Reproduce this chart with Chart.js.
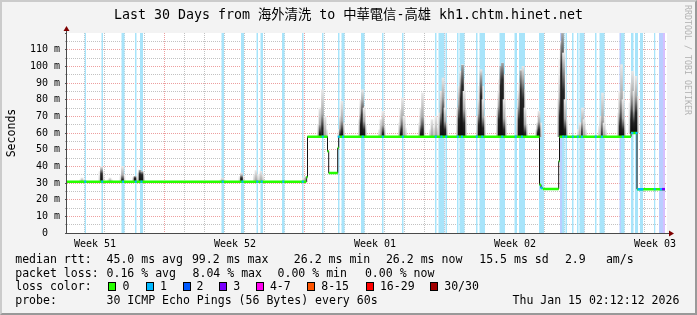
<!DOCTYPE html>
<html lang="zh-Hant">
<head>
<meta charset="utf-8">
<title>Last 30 Days from 海外清洗 to 中華電信-高雄 kh1.chtm.hinet.net</title>
<script src="https://cdn.jsdelivr.net/npm/chart.js@4.4.1/dist/chart.umd.min.js"></script>
<style>
  html, body { margin: 0; padding: 0; background: #f3f3f3; }
  #quadro {
    position: relative; width: 697px; height: 315px; overflow: hidden;
    background: #f3f3f3; color: #000;
    font-family: "DejaVu Sans Mono", "Noto Sans CJK TC", monospace;
  }
  #moldura {
    position: absolute; left: 0; top: 0; width: 697px; height: 315px; box-sizing: border-box;
    border-top: 2px solid #cbcbcb; border-left: 2px solid #cbcbcb;
    border-right: 2px solid #999; border-bottom: 2px solid #999; pointer-events: none;
  }
  #graficoSmoke { position: absolute; left: 0; top: 0; }
  #titulo {
    position: absolute; left: 0; top: 6.9px; width: 697px; text-align: center;
    font-size: 13.3px; line-height: 16px; white-space: pre;
  }
  #rotuloY {
    position: absolute; left: -19.2px; top: 125.5px; width: 60px; height: 14px;
    text-align: center; font-size: 11.55px; line-height: 14px; transform: rotate(-90deg);
  }
  #marcaDagua {
    position: absolute; left: 627.7px; top: 55px; width: 120px; height: 10px;
    text-align: center; font-size: 8.3px; line-height: 10px; color: #b2b2b2;
    transform: rotate(90deg); white-space: pre;
  }
  .leg { position: absolute; font-size: 11.55px; line-height: 14px; white-space: pre; }
  .cx { position: absolute; width: 8px; height: 9px; box-sizing: border-box; border: 1px solid #000; top: 282.3px; }
</style>
</head>
<body>
<div id="quadro">
  <canvas id="graficoSmoke" width="697" height="315"></canvas>

  <div id="titulo">Last 30 Days from 海外清洗 to 中華電信-高雄 kh1.chtm.hinet.net</div>
  <div id="rotuloY">Seconds</div>
  <div id="marcaDagua">RRDTOOL / TOBI OETIKER</div>

  <!-- linha 1 -->
  <span class="leg" style="left:15.2px;top:251.7px">median rtt:</span>
  <span class="leg" style="left:106.5px;top:251.7px">45.0 ms avg</span>
  <span class="leg" style="left:191.9px;top:251.7px">99.2 ms max</span>
  <span class="leg" style="left:293.8px;top:251.7px">26.2 ms min</span>
  <span class="leg" style="left:385.9px;top:251.7px">26.2 ms now</span>
  <span class="leg" style="left:479.2px;top:251.7px">15.5 ms sd</span>
  <span class="leg" style="left:564.9px;top:251.7px">2.9</span>
  <span class="leg" style="left:605.9px;top:251.7px">am/s</span>

  <!-- linha 2 -->
  <span class="leg" style="left:15.2px;top:265.5px">packet loss:</span>
  <span class="leg" style="left:106.5px;top:265.5px">0.16 % avg</span>
  <span class="leg" style="left:192.5px;top:265.5px">8.04 % max</span>
  <span class="leg" style="left:277.5px;top:265.5px">0.00 % min</span>
  <span class="leg" style="left:364.9px;top:265.5px">0.00 % now</span>

  <!-- linha 3 -->
  <span class="leg" style="left:15.2px;top:279.3px">loss color:</span>
  <div class="cx" style="left:108.3px;background:#26ff00"></div>
  <span class="leg" style="left:122.5px;top:279.3px">0</span>
  <div class="cx" style="left:145.7px;background:#00b8ff"></div>
  <span class="leg" style="left:159.9px;top:279.3px">1</span>
  <div class="cx" style="left:182.7px;background:#0059ff"></div>
  <span class="leg" style="left:196.5px;top:279.3px">2</span>
  <div class="cx" style="left:219.3px;background:#7a00ff"></div>
  <span class="leg" style="left:233.2px;top:279.3px">3</span>
  <div class="cx" style="left:256.3px;background:#ff00f0"></div>
  <span class="leg" style="left:269.9px;top:279.3px">4-7</span>
  <div class="cx" style="left:307.3px;background:#ff5500"></div>
  <span class="leg" style="left:321.2px;top:279.3px">8-15</span>
  <div class="cx" style="left:365.7px;background:#ff0000"></div>
  <span class="leg" style="left:379.9px;top:279.3px">16-29</span>
  <div class="cx" style="left:430px;background:#a10000"></div>
  <span class="leg" style="left:444.2px;top:279.3px">30/30</span>

  <!-- linha 4 -->
  <span class="leg" style="left:15.2px;top:293.2px">probe:</span>
  <span class="leg" style="left:106.5px;top:293.2px">30 ICMP Echo Pings (56 Bytes) every 60s</span>
  <span class="leg" style="left:512.5px;top:293.2px">Thu Jan 15 02:12:12 2026</span>

  <div id="moldura"></div>
</div>

<script>
console.log("✅ smokeping-30dias carregado");

// ==========================
// 📊 DADOS (x = dias desde o início da janela, y = ms)
// ==========================
const semanasRotulos = ["Week 51", "Week 52", "Week 01", "Week 02", "Week 03"];
const semanasPosicao = [1.4, 8.4, 15.4, 22.4, 29.4];
const semanasInicio = [4.85, 11.85, 18.85, 25.85];
const primeiraLinhaDia = 0.85;

// mediana em degraus: valor vale a partir do tempo indicado
const medianaTempo = [0, 11.965, 12.025, 13.025, 13.085, 13.535, 13.585, 23.625, 23.7, 23.8, 24.585, 24.625, 28.2, 28.5];
const medianaValor = [30.8, 33.5, 57.8, 49, 36, 51, 57.8, 29, 27, 26.4, 43, 57.8, 60, 26.3];
const medianaFim = 29.9;

// trechos da mediana pintados com a cor de perda
const medianaPerda1 = [[28.53, 28.82], [29.65, 29.75]];
const medianaPerda3 = [[29.75, 29.9]];

// fumaça (dispersão dos pings) acima da mediana
const fumacaTempo = [
  0.75, 1.725, 2.15, 2.775, 3.4, 3.65, 3.75, 7.775, 8.725, 9.45, 9.7, 11.9,
  12.65, 12.775, 12.9, 13.675, 13.75, 14.7, 14.775, 14.85, 15.7, 15.8,
  16.7, 16.775, 16.85, 17.7, 17.775, 18.25, 18.45, 18.7, 18.8, 18.9,
  19.6, 19.7, 19.775, 19.85, 20.6, 20.7, 20.8, 21.6, 21.7, 21.775, 21.85,
  22.6, 22.7, 22.8, 22.9, 23.55, 23.6,
  24.65, 24.725, 24.775, 24.825, 24.9, 25.65, 25.775, 25.85, 26.7, 26.775, 26.85,
  27.65, 27.725, 27.8, 28.225, 28.275, 28.35, 28.45,
];
const fumacaClara = [
  33, 40, 33, 40, 34, 38, 37, 33, 36, 37.5, 37, 34,
  75, 86, 70, 70, 79, 80, 86, 75, 68, 73,
  74, 81, 70, 75, 84, 68, 70, 85, 93, 75,
  88, 97, 101, 85, 80, 98, 80, 85, 100, 102, 80,
  85, 98, 100, 75, 66, 73,
  95, 115, 120, 108, 80, 66, 75, 68, 70, 84, 66,
  85, 101, 80, 90, 97, 85, 94,
];
const fumacaMedia = [
  32, 37, 32, 35, 33.5, 36, 36, 32, 34, 35, 35, 33,
  65, 70, 62, 62, 66, 68, 76, 65, 62, 64,
  66, 70, 63, 66, 70, 62, 63, 72, 80, 66,
  75, 86, 92, 74, 70, 88, 70, 74, 92, 95, 70,
  74, 90, 86, 65, 62, 66,
  80, 105, 110, 95, 68, 62, 66, 62, 64, 70, 62,
  72, 85, 68, 78, 84, 74, 82,
];
const fumacaEscura = [
  null, 35.5, null, 32, 33, 35.5, 35, null, 33, null, null, null,
  60, 63, null, 59, 61, 65, 71, 62, null, 60,
  60, 62, null, 60, 62, null, null, 64, 71, 62,
  68, 80, 88, 66, 65, 82, 63, 68, 88, 92, 62,
  68, 85, 80, 60, 60, 62,
  70, 95, 101, 85, 62, null, 61, null, null, 60, null,
  64, 68, 62, 68, 72, 66, 72,
];

// faixas de perda de pacotes [início, fim] em dias
const faixasPerda1 = [
  [0.875, 0.95], [1.725, 1.8], [2.725, 2.875], [3.4, 3.475], [3.65, 3.8],
  [7.725, 7.85], [8.7, 8.85], [9.475, 9.55], [9.675, 9.8], [10.75, 10.875],
  [11.75, 11.825], [12.75, 12.825], [13.55, 13.625], [13.725, 13.875], [14.7, 14.875],
  [15.75, 15.825], [16.75, 16.825], [18.4, 18.475], [18.575, 18.875], [18.925, 19.0],
  [19.5, 19.575], [19.625, 19.875], [20.45, 20.525], [20.625, 20.9], [21.625, 21.9],
  [22.375, 22.5], [22.6, 22.9], [23.6, 23.85], [24.75, 24.875], [24.925, 25.0],
  [25.25, 25.325], [25.5, 25.575], [25.625, 25.875], [26.4, 26.475], [26.625, 26.875],
  [27.7, 27.875], [28.2, 28.325], [28.4, 28.55], [28.65, 28.8], [29.35, 29.425],
];
const faixasPerda2 = [[24.65, 24.75], [27.625, 27.7], [29.6, 29.8]];
const faixasPerda3 = [[29.8, 29.9]];

const Y_MAX = 120;

// ==========================
// 🎨 CORES
// ==========================
const COR_VERDE = "#26ff00";
const COR_AZUL = "#00b8ff";
const COR_ROXO = "#7a00ff";
const GRADE_MAIOR = "rgba(222, 80, 80, 0.55)";
const GRADE_MENOR = "rgba(143, 143, 143, 0.55)";

// ==========================
// 🔧 MONTAGEM DOS DATASETS
// ==========================
function medianaEm(t) {
  let v = medianaValor[0];
  for (let i = 0; i < medianaTempo.length; i++) {
    if (medianaTempo[i] <= t) v = medianaValor[i];
  }
  return v;
}

const pontosFaixa = (faixas) =>
  faixas.flatMap(([ini, fim]) => [{ x: ini, y: Y_MAX }, { x: fim, y: 0 }]);

const pontosTrecho = (trechos) =>
  trechos.flatMap(([ini, fim]) => [
    { x: ini, y: medianaEm(ini) },
    { x: fim, y: medianaEm(ini) },
    { x: fim, y: null },
  ]);

const barrasFumaca = (topos) =>
  fumacaTempo
    .map((t, i) =>
      topos[i] == null ? null : { x: t, y: [medianaEm(t), topos[i]], escura: fumacaEscura[i] }
    )
    .filter(Boolean);

const pontosMediana = medianaTempo
  .map((t, i) => ({ x: t, y: medianaValor[i] }))
  .concat([{ x: medianaFim, y: medianaValor[medianaValor.length - 1] }]);

const segmentosVerdes = [];
medianaTempo.forEach((t, i) => {
  const fim = i + 1 < medianaTempo.length ? medianaTempo[i + 1] : medianaFim;
  segmentosVerdes.push({ x: t, y: medianaValor[i] }, { x: fim, y: medianaValor[i] }, { x: fim, y: null });
});

const marcasPerda = faixasPerda1.map(([a, b]) => {
  const t = (a + b) / 2;
  return { x: t, y: medianaEm(t) };
});

const linhasDia = [];
for (let d = primeiraLinhaDia; d < 30; d += 1) linhasDia.push(d);

const ehInicioSemana = (v) => semanasInicio.some((s) => Math.abs(s - v) < 0.01);

// degradê vertical da fumaça: escuro junto à mediana, claro no topo
function corNucleo(c) {
  const { chart, raw } = c;
  if (!chart.chartArea || !raw || !raw.y) return "#777";
  const y = chart.scales.y;
  const yBase = y.getPixelForValue(raw.y[0]);
  const yTopo = y.getPixelForValue(raw.y[1]);
  if (yBase - yTopo < 1) return "#777";
  const g = chart.ctx.createLinearGradient(0, yBase, 0, yTopo);
  if (raw.escura != null) {
    const f = Math.min(0.9, Math.max(0.05, (raw.escura - raw.y[0]) / (raw.y[1] - raw.y[0])));
    g.addColorStop(0, "#0c0c0c");
    g.addColorStop(f, "#262626");
    g.addColorStop(Math.min(1, f + 0.3), "#a8a8a8");
    g.addColorStop(1, "#e8e8e8");
  } else {
    g.addColorStop(0, "#a0a0a0");
    g.addColorStop(1, "#e8e8e8");
  }
  return g;
}

function corHalo(c) {
  const { chart, raw } = c;
  if (!chart.chartArea || !raw || !raw.y) return "#e4e4e4";
  const y = chart.scales.y;
  const g = chart.ctx.createLinearGradient(0, y.getPixelForValue(raw.y[0]), 0, y.getPixelForValue(raw.y[1]));
  g.addColorStop(0, "#c6c6c6");
  g.addColorStop(1, "#f0f0f0");
  return g;
}

function faixaDataset(dados, cor, ordem) {
  return {
    type: "line",
    data: pontosFaixa(dados),
    stepped: true,
    borderWidth: 0,
    borderColor: "transparent",
    backgroundColor: cor,
    fill: "origin",
    pointRadius: 0,
    order: ordem,
  };
}

function fumacaDataset(topos, cor, largura, ordem) {
  return {
    type: "bar",
    data: barrasFumaca(topos),
    backgroundColor: cor,
    borderWidth: 0,
    barThickness: largura,
    grouped: false,
    order: ordem,
  };
}

function trechoDataset(trechos, cor, ordem) {
  return {
    type: "line",
    data: pontosTrecho(trechos),
    borderColor: cor,
    borderWidth: 2.5,
    pointRadius: 0,
    spanGaps: false,
    fill: false,
    order: ordem,
  };
}

// ==========================
// 🖼️ PLUGIN: FUNDO, EIXOS E SETAS
// ==========================
const pluginMoldura = {
  id: "molduraSmokeping",
  beforeDraw(chart) {
    const { ctx, chartArea: a } = chart;
    ctx.save();
    ctx.fillStyle = "#ffffff";
    ctx.fillRect(a.left, a.top, a.right - a.left, a.bottom - a.top);
    ctx.restore();
  },
  afterDatasetsDraw(chart) {
    const { ctx, chartArea: a } = chart;
    const x0 = a.left - 0.5;
    const y0 = a.bottom + 0.5;
    ctx.save();
    ctx.strokeStyle = "#4a4a4a";
    ctx.lineWidth = 1;
    ctx.beginPath();
    ctx.moveTo(x0, a.top - 2);
    ctx.lineTo(x0, y0);
    ctx.lineTo(a.right + 2, y0);
    ctx.stroke();

    ctx.fillStyle = "#7f0000";
    ctx.beginPath();
    ctx.moveTo(x0, a.top - 7);
    ctx.lineTo(x0 - 3, a.top - 2);
    ctx.lineTo(x0 + 3, a.top - 2);
    ctx.closePath();
    ctx.fill();

    ctx.beginPath();
    ctx.moveTo(a.right + 7, y0);
    ctx.lineTo(a.right + 2, y0 - 3);
    ctx.lineTo(a.right + 2, y0 + 3);
    ctx.closePath();
    ctx.fill();
    ctx.restore();
  },
};

// ==========================
// 📈 GRÁFICO
// ==========================
Chart.defaults.font.family = '"DejaVu Sans Mono", monospace';
Chart.defaults.font.size = 10;
Chart.defaults.color = "#000";

const canvas = document.getElementById("graficoSmoke");

window.graficoSmoke = new Chart(canvas, {
  type: "line",
  data: {
    datasets: [
      {
        type: "line",
        data: marcasPerda,
        showLine: false,
        pointStyle: "rect",
        pointRadius: 1.5,
        pointBorderWidth: 0,
        pointBackgroundColor: COR_AZUL,
        order: 0,
      },
      trechoDataset(medianaPerda1, COR_AZUL, 0),
      trechoDataset(medianaPerda3, COR_ROXO, 0),
      {
        type: "line",
        data: segmentosVerdes,
        borderColor: COR_VERDE,
        borderWidth: 2.5,
        pointRadius: 0,
        spanGaps: false,
        fill: false,
        order: 1,
      },
      {
        type: "line",
        data: pontosMediana,
        stepped: true,
        borderColor: "#141414",
        borderWidth: 1,
        pointRadius: 0,
        fill: false,
        order: 2,
      },
      fumacaDataset(fumacaClara, corNucleo, 2, 3),
      fumacaDataset(fumacaMedia, corHalo, 5, 4),
      faixaDataset(faixasPerda3, "rgb(214, 192, 255)", 6),
      faixaDataset(faixasPerda2, "rgb(186, 206, 255)", 7),
      faixaDataset(faixasPerda1, "rgb(168, 228, 250)", 8),
    ],
  },
  options: {
    responsive: false,
    animation: false,
    devicePixelRatio: 1,
    layout: { padding: { top: 33, left: 0, right: 30, bottom: 62 } },
    plugins: {
      legend: { display: false },
      tooltip: { enabled: false },
    },
    scales: {
      x: {
        type: "linear",
        position: "bottom",
        min: 0,
        max: 30,
        offset: false,
        weight: 0,
        afterBuildTicks: (eixo) => {
          eixo.ticks = linhasDia.map((v) => ({ value: v }));
        },
        ticks: { display: false },
        grid: {
          offset: false,
          drawTicks: false,
          lineWidth: 1,
          color: (ctx) => (ehInicioSemana(ctx.tick.value) ? GRADE_MAIOR : GRADE_MENOR),
        },
        border: { display: false, dash: [1, 1] },
        afterFit: (eixo) => {
          eixo.height = 0;
        },
      },
      x2: {
        type: "linear",
        position: "bottom",
        min: 0,
        max: 30,
        offset: false,
        weight: 1,
        afterBuildTicks: (eixo) => {
          eixo.ticks = semanasPosicao.map((v) => ({ value: v }));
        },
        ticks: {
          autoSkip: false,
          maxRotation: 0,
          padding: -2.5,
          font: { size: 10 },
          callback: (valor, indice) => semanasRotulos[indice],
        },
        grid: { display: false },
        border: { display: false },
        afterFit: (eixo) => {
          eixo.height = 20;
        },
      },
      y: {
        type: "linear",
        min: 0,
        max: Y_MAX,
        ticks: {
          stepSize: 5,
          autoSkip: false,
          padding: 5,
          font: { size: 10 },
          callback: (v) => {
            if (v === 0) return "0  ";
            if (v % 10 === 0 && v < Y_MAX) return v + " m";
            return "";
          },
        },
        grid: {
          drawTicks: true,
          tickLength: 2,
          tickWidth: 1,
          tickBorderDash: [],
          tickColor: (ctx) => (ctx.tick.value % 10 === 0 ? "#555" : "#aaa"),
          color: (ctx) => {
            const v = ctx.tick.value;
            if (v === 0 || v === Y_MAX) return "transparent";
            return v % 10 === 0 ? GRADE_MAIOR : GRADE_MENOR;
          },
        },
        border: { display: false, dash: [1, 1] },
        afterFit: (eixo) => {
          eixo.width = 67;
        },
      },
    },
  },
  plugins: [pluginMoldura],
});

console.log("✅ smokeping-30dias pronto", {
  area: window.graficoSmoke.chartArea,
  faixas: faixasPerda1.length,
  fumaca: fumacaTempo.length,
});
</script>
</body>
</html>
